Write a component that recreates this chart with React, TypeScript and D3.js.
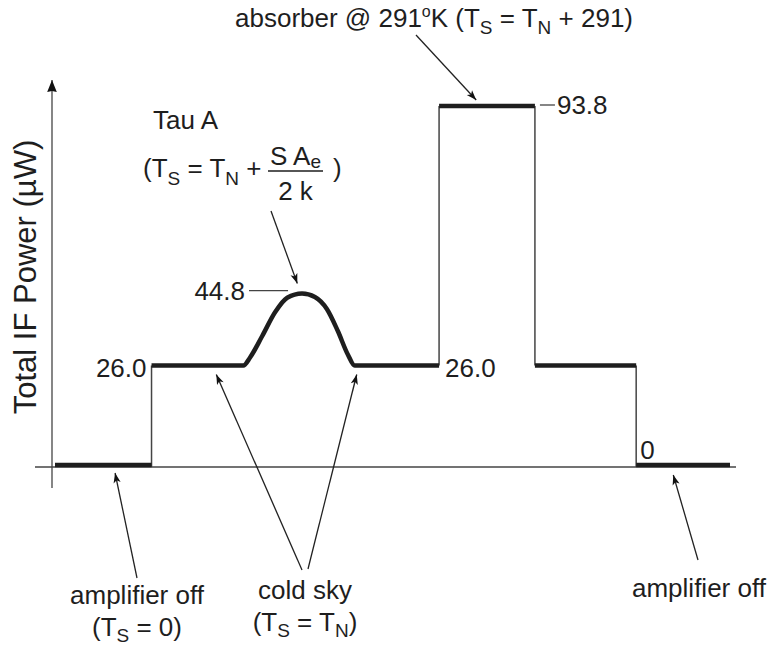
import React from "react";
import * as d3 from "d3";

const W = 776;
const H = 648;
const FONT = "'Liberation Sans', Arial, Helvetica, sans-serif";
const INK = "#1e1e1e";
const THIN = "#444";

// Receiver output sequence: each step is a load on the input (time in arbitrary units)
const stepName = ["amplifier off", "cold sky", "absorber", "cold sky", "amplifier off"];
const stepStart = [0, 14.3, 56.9, 71.1, 86.1];
const stepEnd = [14.3, 56.9, 71.1, 86.1, 100];
const stepPower = [0, 26.0, 93.8, 26.0, 0]; // µW

// Tau A drifting through the beam during the first cold-sky step
const tauATime = [27.9, 28.9, 30.7, 32.6, 34.4, 36.6, 38.5, 40.3, 41.9, 43.4, 44.4];
const tauAPower = [26.0, 28.1, 33.7, 39.9, 43.7, 44.8, 43.9, 40.7, 35.0, 28.8, 26.0];

const fmt = (v: number) => (v === 0 ? "0" : v.toFixed(1));

export default function App() {
  const x = d3.scaleLinear().domain([0, 100]).range([55, 730]);
  const y = d3.scaleLinear().domain([0, 93.8]).range([465, 106]);
  const axisY = y(0) + 2;
  const axisX = 52;

  const line = d3
    .line<[number, number]>()
    .x((d) => x(d[0]))
    .y((d) => y(d[1]))
    .curve(d3.curveMonotoneX);

  // one thick trace per step; the transit is folded into the step that contains it
  const traces = stepPower.map((p, i) => {
    const pts: [number, number][] = [[stepStart[i], p]];
    tauATime.forEach((t, k) => {
      if (t > stepStart[i] && t < stepEnd[i]) pts.push([t, tauAPower[k]]);
    });
    pts.push([stepEnd[i], p]);
    return line(pts) as string;
  });

  const levelY = (p: number) => (p === 0 ? axisY : y(p));
  const risers = stepPower.slice(1).map((p, i) => ({
    t: stepStart[i + 1],
    y1: levelY(stepPower[i]),
    y2: levelY(p),
  }));

  const peak = d3.max(tauAPower) as number;
  const peakT = tauATime[tauAPower.indexOf(peak)];
  const absorber = stepPower[2];
  const sky = stepPower[1];

  const arrows = [
    { x1: 416, y1: 35, x2: x(62.4), y2: y(absorber) - 6 },
    { x1: 271, y1: 211, x2: x(peakT - 0.7), y2: y(peak) - 10 },
    { x1: 302, y1: 570, x2: x(23.9), y2: y(sky) + 9 },
    { x1: 308, y1: 569, x2: x(44.7), y2: y(sky) + 9 },
    { x1: 137, y1: 578, x2: x(8.9), y2: y(0) + 8 },
    { x1: 698, y1: 560, x2: x(91.6), y2: y(0) + 10 },
  ];

  const sub = 19;

  return (
    <svg width={W} height={H} style={{ display: "block", position: "absolute", left: 0, top: 0 }} fontFamily={FONT}>
      <defs>
        <marker id="ah" viewBox="-11 -5 12 10" markerWidth={12} markerHeight={10} refX={0} refY={0} orient="auto" markerUnits="userSpaceOnUse">
          <path d="M0,0 L-10,-3.6 L-7.5,0 L-10,3.6 Z" fill="#111" />
        </marker>
        <marker id="axisHead" viewBox="-13 -6 14 12" markerWidth={14} markerHeight={12} refX={0} refY={0} orient="auto" markerUnits="userSpaceOnUse">
          <path d="M0,0 L-12,-4.8 L-11,0 L-12,4.8 Z" fill="#111" />
        </marker>
      </defs>
      <rect width={W} height={H} fill="#fff" />

      {/* axes */}
      <line x1={35} x2={736} y1={axisY} y2={axisY} stroke={THIN} strokeWidth={1.3} />
      <line x1={axisX} x2={axisX} y1={488} y2={80} stroke={THIN} strokeWidth={1.3} markerEnd="url(#axisHead)" />
      <text transform={`translate(36,277) rotate(-90)`} textAnchor="middle" fontSize={31} fill={INK}>
        Total IF Power (µW)
      </text>

      {/* level transitions */}
      {risers.map((r, i) => (
        <line key={i} x1={x(r.t)} x2={x(r.t)} y1={r.y1} y2={r.y2} stroke={THIN} strokeWidth={1.5} />
      ))}

      {/* power trace */}
      {traces.map((d, i) => (
        <path key={i} d={d} fill="none" stroke={INK} strokeWidth={4.5} strokeLinejoin="round" />
      ))}

      {/* value labels */}
      <g fontSize={26} fill={INK}>
        <text x={x(stepStart[1]) - 5} y={y(sky) + 12} textAnchor="end">{fmt(sky)}</text>
        <text x={x(stepStart[2]) + 6} y={y(sky) + 12}>{fmt(sky)}</text>
        <text x={x(stepStart[4]) + 4} y={y(0) - 6}>{fmt(0)}</text>
        <line x1={x(stepEnd[2]) + 5} x2={x(stepEnd[2]) + 20} y1={y(absorber) - 1} y2={y(absorber) - 1} stroke={THIN} strokeWidth={1.3} />
        <text x={x(stepEnd[2]) + 22} y={y(absorber) + 8}>{fmt(absorber)}</text>
        <line x1={249} x2={x(peakT) - 14} y1={y(peak) - 3} y2={y(peak) - 3} stroke={THIN} strokeWidth={1.3} />
        <text x={245} y={y(peak) + 6} textAnchor="end">{fmt(peak)}</text>
      </g>

      {/* annotation arrows */}
      {arrows.map((a, i) => (
        <line key={i} x1={a.x1} y1={a.y1} x2={a.x2} y2={a.y2} stroke="#222" strokeWidth={1.3} markerEnd="url(#ah)" />
      ))}

      {/* annotation text */}
      <g fontSize={26} fill={INK}>
        <text x={633} y={27} textAnchor="end">
          absorber @ 291
          <tspan dy={-10} fontSize={16}>o</tspan>
          <tspan dy={10}>K (T</tspan>
          <tspan dy={7} fontSize={sub}>S</tspan>
          <tspan dy={-7}> = T</tspan>
          <tspan dy={7} fontSize={sub}>N</tspan>
          <tspan dy={-7}> + 291)</tspan>
        </text>

        <text x={153} y={129}>Tau A</text>
        <text x={143} y={177}>
          (T<tspan dy={8} fontSize={sub}>S</tspan>
          <tspan dy={-8}> = T</tspan>
          <tspan dy={8} fontSize={sub}>N</tspan>
          <tspan dy={-8}> +</tspan>
        </text>
        <text x={295.5} y={165} textAnchor="middle">
          S A<tspan dy={3} fontSize={sub}>e</tspan>
        </text>
        <line x1={268} x2={323} y1={171} y2={171} stroke={INK} strokeWidth={1.6} />
        <text x={295.5} y={200} textAnchor="middle">2 k</text>
        <text x={333} y={177}>)</text>

        <text x={137} y={604} textAnchor="middle">{stepName[0]}</text>
        <text x={137} y={636} textAnchor="middle">
          (T<tspan dy={6} fontSize={sub}>S</tspan>
          <tspan dy={-6}> = 0)</tspan>
        </text>
        <text x={305} y={599} textAnchor="middle">{stepName[1]}</text>
        <text x={305} y={631} textAnchor="middle">
          (T<tspan dy={6} fontSize={sub}>S</tspan>
          <tspan dy={-6}> = T</tspan>
          <tspan dy={6} fontSize={sub}>N</tspan>
          <tspan dy={-6}>)</tspan>
        </text>
        <text x={632} y={597}>{stepName[4]}</text>
      </g>
    </svg>
  );
}
